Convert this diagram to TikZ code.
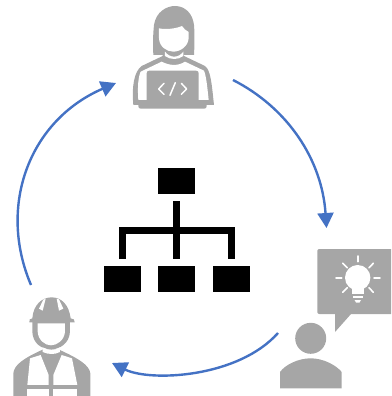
\documentclass[tikz,border=0pt]{standalone}
\usetikzlibrary{calc,arrows.meta}
\definecolor{icon}{HTML}{A6A6A6}
\definecolor{flow}{HTML}{4472C4}
\tikzset{
  x=1pt,y=-1pt,
  flowarrow/.style={draw=flow,line width=2.4pt,-{Triangle[length=15pt,width=16pt]}},
  orgbox/.style={fill=black,draw=none,minimum width=37pt,minimum height=26pt,inner sep=0pt,outer sep=0pt},
  orgline/.style={draw=black,line width=7pt},
  iconfill/.style={fill=icon,draw=none},
  cut/.style={fill=white,draw=none},
  cutline/.style={draw=white,line width=1.6pt,line cap=round},
}
\begin{document}
\begin{tikzpicture}
\useasboundingbox (0,0) rectangle (391,396);
% org chart
\node[orgbox] (top) at (176.5,181) {};
\node[orgbox] (b1) at (122.5,279) {};
\node[orgbox] (b2) at (176.5,279) {};
\node[orgbox] (b3) at (231.5,279) {};
\coordinate (t1) at ($(top.south)+(0,7)$);
\coordinate (e1) at ($(b1.north)+(0,-7)$);
\coordinate (e2) at ($(b2.north)+(0,-7)$);
\coordinate (e3) at ($(b3.north)+(0,-7)$);
\draw[orgline] (t1) -- (e2);
\draw[orgline] (e1) -- (e1 |- 0,230) -- (e3 |- 0,230) -- (e3);
% flow arrows
\coordinate (a1) at (233,80);
\coordinate (a2) at (326.5,228);
\coordinate (a3) at (278,333);
\coordinate (a4) at (112,363);
\coordinate (a5) at (31,285);
\coordinate (a6) at (116,83);
\draw[flowarrow] (a1) .. controls (288,108) and (322,160) .. (a2);
\draw[flowarrow] (a3) .. controls (238,378) and (150,382) .. (a4);
\draw[flowarrow] (a5) .. controls (-3,205) and (30,120) .. (a6);
% developer
\begin{scope}[shift={(120,0)},x=0.3333pt,y=-0.3333pt]
  \path[iconfill] (100,165) .. controls (98,120) and (100,95) .. (102,75) .. controls (108,35) and (140,18) .. (165,18) .. controls (195,18) and (218,40) .. (222,75) .. controls (224,100) and (224,130) .. (222,165) -- (190,165) -- (130,165) -- cycle;
  \path[iconfill] (130,150) -- (190,150) -- (192,168) -- (255,198) .. controls (272,210) and (275,250) .. (282,315) -- (40,315) .. controls (35,260) and (42,215) .. (65,198) -- (128,168) -- cycle;
  \path[cut] (62,215) -- (125,185) .. controls (150,198) and (175,198) .. (195,185) -- (252,212) .. controls (258,225) and (262,260) .. (266,300) -- (55,300) .. controls (52,260) and (55,230) .. (62,215) -- cycle;
  \path[cut] (135,155) .. controls (150,175) and (175,175) .. (190,155) -- (190,168) .. controls (175,180) and (150,180) .. (135,168) -- cycle;
  \path[cut] (117,85) .. controls (140,90) and (170,85) .. (186,78) .. controls (190,85) and (198,92) .. (206,96) -- (206,115) .. controls (204,140) and (180,155) .. (160,155) .. controls (140,155) and (118,140) .. (117,115) -- cycle;
  \path[iconfill] (88,212) -- (228,212) .. controls (233,212) and (236,215) .. (236,220) -- (236,306) -- (80,306) -- (80,220) .. controls (80,215) and (83,212) .. (88,212) -- cycle;
  \path[iconfill] (55,314) -- (260,314) -- (260,319) .. controls (260,323) and (257,326) .. (253,326) -- (62,326) .. controls (58,326) and (55,323) .. (55,319) -- cycle;
  \draw[white,line width=1.5pt,line cap=round,line join=round] (132,250) -- (116,267) -- (132,283);
  \draw[white,line width=1.5pt,line cap=round,line join=round] (184,250) -- (200,267) -- (184,283);
  \draw[white,line width=1.5pt,line cap=round] (166,248) -- (150,286);
\end{scope}
% idea person
\path[iconfill] (319.3,249) -- (391,249) -- (391,314) -- (351,314) -- (335,332) -- (335,314) -- (319.3,314) .. controls (318,314) and (317.3,313) .. (317.3,312) -- (317.3,251) .. controls (317.3,250) and (318,249) .. (319.3,249) -- cycle;
\path[iconfill] (310.7,338.3) circle[radius=15.5];
\path[iconfill] (280,388.3) -- (280,372) .. controls (285,365) and (298,358.3) .. (310.7,358.3) .. controls (323,358.3) and (336,365) .. (341.7,372) -- (341.7,388.3) -- cycle;
\path[cut] (357.7,277.7) circle[radius=12.7];
\path[cut] (351.5,285) -- (364,285) -- (364,293.5) -- (351.5,293.5) -- cycle;
\path[cut] (352.5,295.5) -- (363,295.5) -- (363,297.5) -- (352.5,297.5) -- cycle;
\path[cut] (354.5,300) -- (361,300) -- (359.5,302.5) -- (356,302.5) -- cycle;
\draw[cutline] (357.7,256) -- (357.7,261.7);
\draw[cutline] (342.7,263.3) -- (347.3,267.7);
\draw[cutline] (373.3,263.3) -- (369,267.7);
\draw[cutline] (336,277.7) -- (341.7,277.7);
\draw[cutline] (374,277.7) -- (380,277.7);
\draw[cutline] (342.7,292.3) -- (347.3,287.7);
\draw[cutline] (373.3,292.3) -- (369,287.7);
% worker
\begin{scope}[shift={(0,290)},x=0.3333pt,y=-0.3333pt]
  \path[iconfill] (40,318) -- (40,250) .. controls (42,225) and (70,205) .. (130,178) -- (175,178) .. controls (235,205) and (268,225) .. (271,250) -- (271,318) -- cycle;
  \path[iconfill] (97,95) -- (210,95) -- (210,125) .. controls (208,160) and (180,178) .. (153,178) .. controls (125,178) and (98,160) .. (97,125) -- cycle;
  \path[cut] (113,100) -- (195,100) -- (195,125) .. controls (193,150) and (172,166) .. (153,166) .. controls (134,166) and (115,150) .. (113,125) -- cycle;
  \path[cut] (128,172) .. controls (145,182) and (165,182) .. (180,172) -- (180,186) .. controls (165,194) and (145,194) .. (128,186) -- cycle;
  \path[iconfill] (88,97) .. controls (86,90) and (90,85) .. (97,85) .. controls (100,45) and (125,22) .. (155,22) .. controls (185,22) and (207,45) .. (212,85) .. controls (220,85) and (226,90) .. (224,97) -- cycle;
  \path[cut] (128,62) -- (137,26) -- (130,29) -- (117,56) -- cycle;
  \path[cut] (177,62) -- (170,26) -- (177,28) -- (190,56) -- cycle;
  \path[cut] (90,205) -- (82,285) -- (146,285) -- (146,255) -- (122,195) -- cycle;
  \path[cut] (216,205) -- (232,285) -- (160,285) -- (160,255) -- (185,195) -- cycle;
  \path[cut] (80,296) -- (146,296) -- (146,318) -- (80,318) -- cycle;
  \path[cut] (160,296) -- (232,296) -- (232,318) -- (160,318) -- cycle;
\end{scope}
\end{tikzpicture}
\end{document}
